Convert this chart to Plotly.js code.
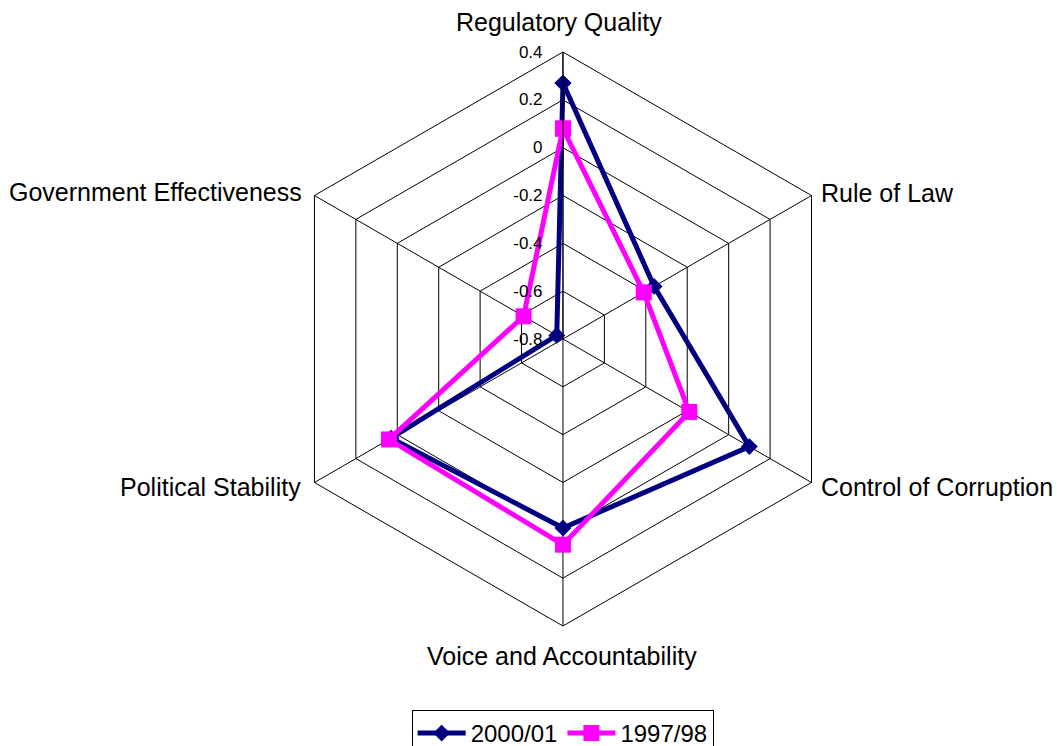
<!DOCTYPE html>
<html>
<head>
<meta charset="utf-8">
<script src="https://cdn.plot.ly/plotly-3.0.1.min.js"></script>
<style>html,body{margin:0;padding:0;background:#fff;overflow:hidden;}#chart{width:1059px;height:760px;}</style>
</head>
<body>
<div id="chart"></div>
<script>
const categories = ["Regulatory Quality", "Rule of Law", "Control of Corruption", "Voice and Accountability", "Political Stability", "Government Effectiveness"];
const series2000 = [0.27, -0.36, 0.10, -0.01, 0.03, -0.77];
const series1997 = [0.08, -0.41, -0.19, 0.06, 0.04, -0.61];
const seriesNames = ["2000/01", "1997/98"];
const radialTicks = [-0.8, -0.6, -0.4, -0.2, 0, 0.2, 0.4];
const radialTickText = ["-0.8", "-0.6", "-0.4", "-0.2", "0", "0.2", "0.4"];

// Axis minimum sits at the centre; values are measured from it so the
// linear (hexagonal) grid keeps every marker visible.
const radialMin = -0.8, radialMax = 0.4;
const fromMin = v => v - radialMin;
function closeLoop(a) { return a.concat([a[0]]); }

const traces = [
  {
    type: "scatterpolar", mode: "lines+markers", name: seriesNames[0],
    r: closeLoop(series2000.map(fromMin)), theta: closeLoop(categories),
    cliponaxis: false,
    line: {color: "#000080", width: 5},
    marker: {symbol: "diamond", size: 13, color: "#000080"}
  },
  {
    type: "scatterpolar", mode: "lines+markers", name: seriesNames[1],
    r: closeLoop(series1997.map(fromMin)), theta: closeLoop(categories),
    cliponaxis: false,
    line: {color: "#FF00FF", width: 5},
    marker: {symbol: "square", size: 16, color: "#FF00FF"}
  }
];

const labelFont = {size: 25, color: "#000", family: "Liberation Sans, Arial, sans-serif"};
const labelPos = [
  {x: 0.5279, y: 0.9711, xanchor: "center"},
  {x: 0.7734, y: 0.7461, xanchor: "left"},
  {x: 0.7734, y: 0.3592, xanchor: "left"},
  {x: 0.5307, y: 0.1368, xanchor: "center"},
  {x: 0.2861, y: 0.3592, xanchor: "right"},
  {x: 0.2875, y: 0.7474, xanchor: "right"}
];
const annotations = categories.map((c, i) => ({
  text: c, xref: "paper", yref: "paper", x: labelPos[i].x, y: labelPos[i].y,
  xanchor: labelPos[i].xanchor, yanchor: "middle", showarrow: false, font: labelFont
}));

const layout = {
  width: 1059, height: 760,
  margin: {l: 0, r: 0, t: 0, b: 0},
  paper_bgcolor: "#fff",
  font: {family: "Liberation Sans, Arial, sans-serif", color: "#000"},
  showlegend: true,
  annotations: annotations,
  legend: {
    orientation: "h", x: 0.5313, xanchor: "center", y: 0.0658, yanchor: "top",
    bordercolor: "#000", borderwidth: 1, font: {size: 24},
    itemwidth: 48, tracegroupgap: 0
  },
  polar: {
    domain: {x: [0.2606, 0.8026], y: [0.1763, 0.9316]},
    gridshape: "linear",
    bgcolor: "#fff",
    radialaxis: {
      range: [fromMin(radialMin), fromMin(radialMax)], angle: 90, side: "counterclockwise",
      tickvals: radialTicks.map(fromMin), ticktext: radialTickText,
      tickangle: 90, tickfont: {size: 17},
      showline: true, linecolor: "#000", linewidth: 1,
      gridcolor: "#000", gridwidth: 1,
      ticks: "outside", ticklen: 14, tickcolor: "rgba(0,0,0,0)"
    },
    angularaxis: {
      rotation: 90, direction: "clockwise",
      showticklabels: false,
      showline: true, linecolor: "#000", linewidth: 1,
      gridcolor: "#000", gridwidth: 1, ticks: ""
    }
  }
};

Plotly.newPlot("chart", traces, layout, {displayModeBar: false});
</script>
</body>
</html>
